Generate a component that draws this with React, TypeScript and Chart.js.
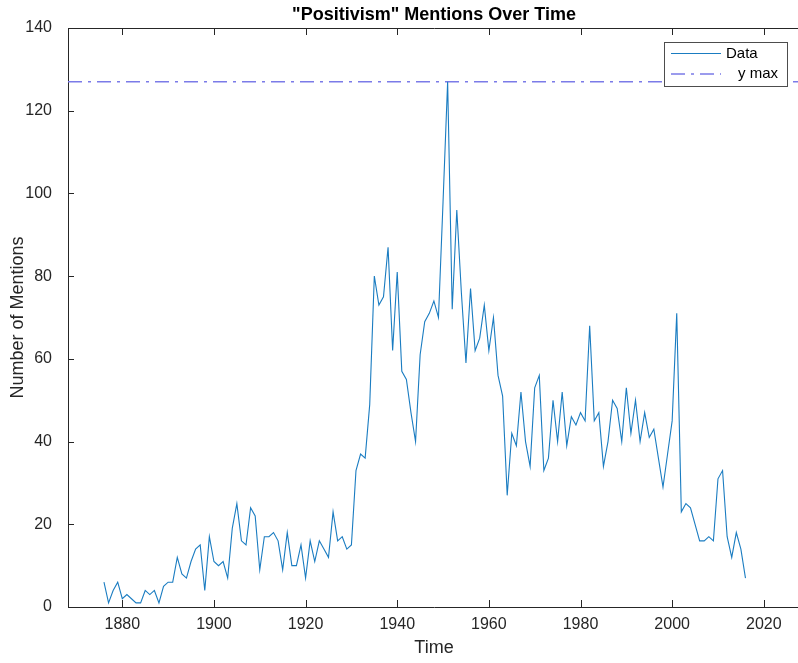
import React, { useEffect, useRef } from "react";
import { Chart, registerables } from "chart.js";

Chart.register(...registerables);

// ---- data ----
const years: number[] = [
  1876, 1877, 1878, 1879,
  1880, 1881, 1882, 1883, 1884, 1885, 1886, 1887, 1888, 1889,
  1890, 1891, 1892, 1893, 1894, 1895, 1896, 1897, 1898, 1899,
  1900, 1901, 1902, 1903, 1904, 1905, 1906, 1907, 1908, 1909,
  1910, 1911, 1912, 1913, 1914, 1915, 1916, 1917, 1918, 1919,
  1920, 1921, 1922, 1923, 1924, 1925, 1926, 1927, 1928, 1929,
  1930, 1931, 1932, 1933, 1934, 1935, 1936, 1937, 1938, 1939,
  1940, 1941, 1942, 1943, 1944, 1945, 1946, 1947, 1948, 1949,
  1950, 1951, 1952, 1953, 1954, 1955, 1956, 1957, 1958, 1959,
  1960, 1961, 1962, 1963, 1964, 1965, 1966, 1967, 1968, 1969,
  1970, 1971, 1972, 1973, 1974, 1975, 1976, 1977, 1978, 1979,
  1980, 1981, 1982, 1983, 1984, 1985, 1986, 1987, 1988, 1989,
  1990, 1991, 1992, 1993, 1994, 1995, 1996, 1997, 1998, 1999,
  2000, 2001, 2002, 2003, 2004, 2005, 2006, 2007, 2008, 2009,
  2010, 2011, 2012, 2013, 2014, 2015, 2016,
];

const mentions: number[] = [
  6, 1, 4, 6,
  2, 3, 2, 1, 1, 4, 3, 4, 1, 5,
  6, 6, 12, 8, 7, 11, 14, 15, 4, 17,
  11, 10, 11, 7, 19, 25, 16, 15, 24, 22,
  9, 17, 17, 18, 16, 9, 18, 10, 10, 15,
  7, 16, 11, 16, 14, 12, 23, 16, 17, 14,
  15, 33, 37, 36, 49, 80, 73, 75, 87, 62,
  81, 57, 55, 47, 40, 61, 69, 71, 74, 70,
  98, 127, 72, 96, 76, 59, 77, 62, 65, 73,
  62, 70, 56, 51, 27, 42, 39, 52, 40, 34,
  53, 56, 33, 36, 50, 40, 52, 39, 46, 44,
  47, 45, 68, 45, 47, 34, 40, 50, 48, 40,
  53, 42, 50, 40, 47, 41, 43, 36, 29, 37,
  45, 71, 23, 25, 24, 20, 16, 16, 17, 16,
  31, 33, 17, 12, 18, 14, 7,
];

const xTicks: number[] = [1880, 1900, 1920, 1940, 1960, 1980, 2000, 2020];
const yTicks: number[] = [0, 20, 40, 60, 80, 100, 120, 140];

const X_MIN = 1868.15;
const X_MAX = 2027.9;
const Y_MIN = 0;
const Y_MAX = 140;

const FONT = "'Liberation Sans', Arial, Helvetica, sans-serif";
const AXIS_COLOR = "#262626";
const DATA_COLOR = "#1a7cc1";
const YMAX_COLOR = "#7b7be8";
const YMAX_DASH = [14, 6, 3, 6];

export default function App() {
  const ref = useRef<HTMLCanvasElement>(null);

  useEffect(() => {
    if (!ref.current) return;
    const yMax = Math.max(...mentions);

    const insideTicks = {
      id: "insideTicks",
      afterDraw(chart: any) {
        const { ctx, chartArea } = chart;
        const xs = chart.scales.x;
        const ys = chart.scales.y;
        ctx.save();
        ctx.strokeStyle = AXIS_COLOR;
        ctx.lineWidth = 1;
        ctx.beginPath();
        xTicks.forEach((v) => {
          const px = Math.round(xs.getPixelForValue(v)) + 0.5;
          ctx.moveTo(px, chartArea.bottom);
          ctx.lineTo(px, chartArea.bottom - 7);
          ctx.moveTo(px, chartArea.top);
          ctx.lineTo(px, chartArea.top + 7);
        });
        yTicks.forEach((v) => {
          const py = Math.round(ys.getPixelForValue(v)) + 0.5;
          ctx.moveTo(chartArea.left, py);
          ctx.lineTo(chartArea.left + 6, py);
        });
        ctx.stroke();
        ctx.restore();
      },
    };

    const legendBox = {
      id: "legendBox",
      afterDraw(chart: any) {
        const { ctx, chartArea } = chart;
        const right = chartArea.right - 13;
        const top = chartArea.top + 14;
        const w = 123;
        const h = 44;
        const left = right - w;
        ctx.save();
        ctx.fillStyle = "#ffffff";
        ctx.fillRect(left, top, w, h);
        ctx.strokeStyle = "#4d4d4d";
        ctx.lineWidth = 1;
        ctx.strokeRect(Math.round(left) + 0.5, Math.round(top) + 0.5, w, h);
        const ds = chart.data.datasets;
        const rowY = [top + 11.5, top + 32];
        const textX = [left + 62, left + 74];
        ds.forEach((d: any, i: number) => {
          ctx.beginPath();
          ctx.strokeStyle = d.borderColor;
          ctx.lineWidth = d.borderWidth;
          ctx.setLineDash(d.borderDash || []);
          ctx.moveTo(left + 7, rowY[i]);
          ctx.lineTo(left + 57, rowY[i]);
          ctx.stroke();
          ctx.setLineDash([]);
          ctx.fillStyle = "#000000";
          ctx.font = `15px ${FONT}`;
          ctx.textBaseline = "middle";
          ctx.textAlign = "left";
          ctx.fillText(d.label, textX[i], rowY[i]);
        });
        ctx.restore();
      },
    };

    const chart = new Chart(ref.current, {
      type: "line",
      data: {
        datasets: [
          {
            label: "Data",
            data: years.map((x, i) => ({ x, y: mentions[i] })),
            borderColor: DATA_COLOR,
            borderWidth: 1.1,
            pointRadius: 0,
            tension: 0,
            xAxisID: "x",
            yAxisID: "y",
          },
          {
            label: "y max",
            data: [
              { x: X_MIN, y: yMax },
              { x: X_MAX, y: yMax },
            ],
            borderColor: YMAX_COLOR,
            borderWidth: 1.6,
            borderDash: YMAX_DASH,
            pointRadius: 0,
            xAxisID: "x",
            yAxisID: "y",
          },
        ],
      },
      options: {
        responsive: false,
        animation: false,
        devicePixelRatio: 1,
        layout: { padding: 0 },
        plugins: {
          legend: { display: false },
          title: { display: false },
          tooltip: { enabled: false },
        },
        scales: {
          x: {
            type: "linear",
            position: "bottom",
            min: X_MIN,
            max: X_MAX,
            afterBuildTicks: (s: any) => {
              s.ticks = xTicks.map((v) => ({ value: v }));
            },
            afterFit: (s: any) => {
              s.height = 56;
            },
            grid: { display: false },
            border: { display: true, color: AXIS_COLOR, width: 1 },
            ticks: {
              font: { family: FONT, size: 16 },
              color: AXIS_COLOR,
              padding: 0,
              maxRotation: 0,
              autoSkip: false,
              callback: (v: any) => String(v),
            },
            title: {
              display: true,
              text: "Time",
              font: { family: FONT, size: 18 },
              color: AXIS_COLOR,
              padding: { top: 0, bottom: 4 },
            },
          },
          xTop: {
            type: "linear",
            position: "top",
            min: X_MIN,
            max: X_MAX,
            afterFit: (s: any) => {
              s.height = 28;
            },
            grid: { display: false },
            border: { display: true, color: AXIS_COLOR, width: 1 },
            ticks: { display: false },
            title: {
              display: true,
              text: '"Positivism" Mentions Over Time',
              font: { family: FONT, size: 18, weight: "bold" },
              color: "#000000",
              padding: { top: 4, bottom: 0 },
            },
          },
          y: {
            type: "linear",
            position: "left",
            min: Y_MIN,
            max: Y_MAX,
            afterBuildTicks: (s: any) => {
              s.ticks = yTicks.map((v) => ({ value: v }));
            },
            afterFit: (s: any) => {
              s.width = 68;
            },
            grid: { display: false },
            border: { display: true, color: AXIS_COLOR, width: 1 },
            ticks: {
              font: { family: FONT, size: 16 },
              color: AXIS_COLOR,
              padding: 8,
              callback: (v: any) => String(v),
            },
            title: {
              display: true,
              text: "Number of Mentions",
              font: { family: FONT, size: 18 },
              color: AXIS_COLOR,
              padding: { top: 7, bottom: 0 },
            },
          },
        },
      } as any,
      plugins: [insideTicks, legendBox],
    });

    return () => chart.destroy();
  }, []);

  return (
    <div
      style={{
        position: "absolute",
        left: 0,
        top: 0,
        width: 798,
        height: 663,
        overflow: "hidden",
        background: "#ffffff",
      }}
    >
      <canvas
        ref={ref}
        width={800}
        height={663}
        style={{ display: "block", width: 800, height: 663 }}
      />
    </div>
  );
}
